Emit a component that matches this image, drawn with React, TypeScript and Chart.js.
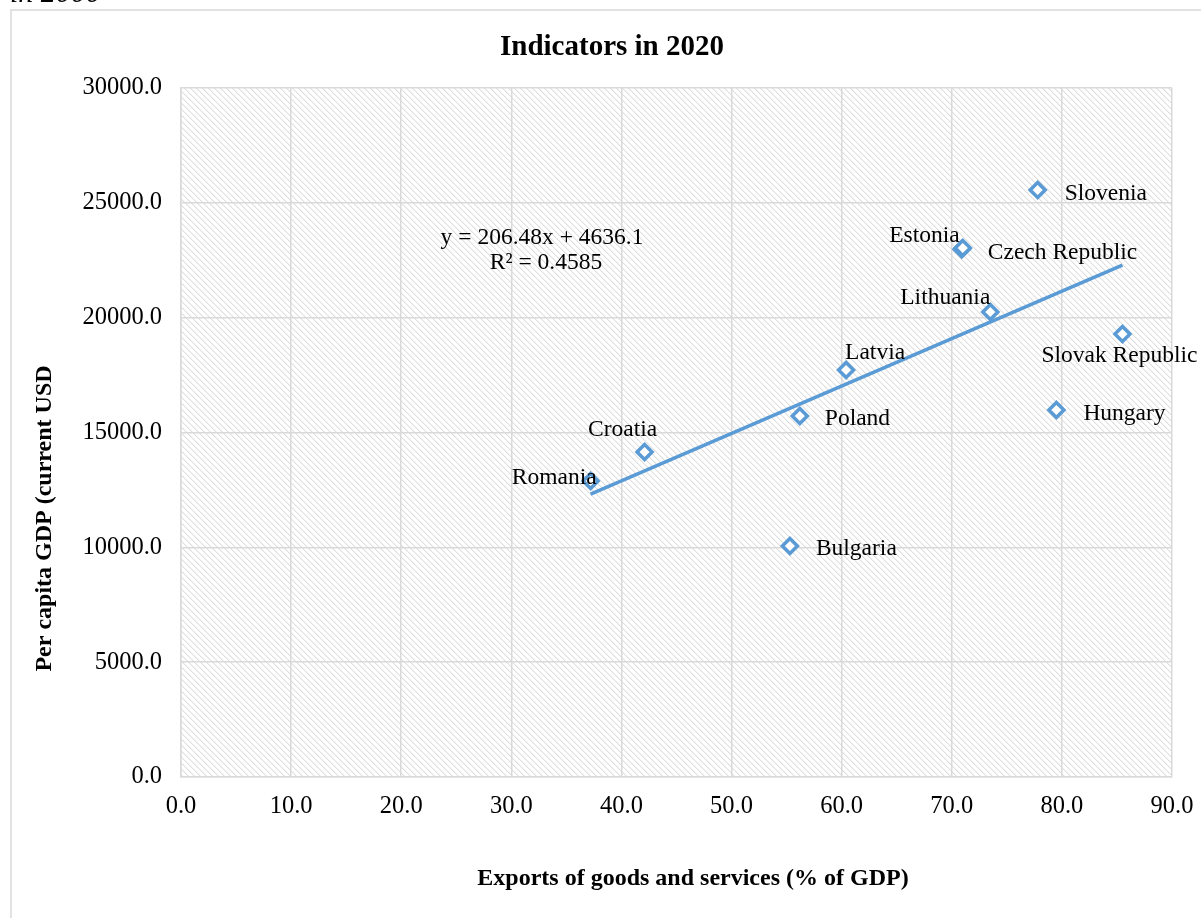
import { useEffect, useRef } from "react";
import { Chart, registerables } from "chart.js";

Chart.register(...registerables);

// ---------- data ----------
const countries = [
  "Romania",
  "Croatia",
  "Bulgaria",
  "Poland",
  "Latvia",
  "Estonia",
  "Czech Republic",
  "Lithuania",
  "Slovenia",
  "Slovak Republic",
  "Hungary",
];
const exportsPctGdp = [37.2, 42.1, 55.3, 56.2, 60.4, 70.9, 71.0, 73.5, 77.8, 85.5, 79.5];
const gdpPerCapita = [12890, 14150, 10060, 15720, 17720, 22980, 23030, 20250, 25560, 19290, 15980];

const trendSlope = 206.48;
const trendIntercept = 4636.1;
const trendLabel = ["y = 206.48x + 4636.1", "R² = 0.4585"];

const chartTitle = "Indicators in 2020";
const xAxisTitle = "Exports of goods and services (% of GDP)";
const yAxisTitle = "Per capita GDP (current USD";
const clippedHeading = "in 2000";

const xMin = 0;
const xMax = 90;
const xStep = 10;
const yMin = 0;
const yMax = 30000;
const yStep = 5000;

// label placement relative to each marker (pixels), same order as countries
const labelPlacement = [
  { dx: 6, dy: -5, align: "right" },
  { dx: -22, dy: -24, align: "center" },
  { dx: 26, dy: 1, align: "left" },
  { dx: 25, dy: 1, align: "left" },
  { dx: -1, dy: -19, align: "left" },
  { dx: -2, dy: -15, align: "right" },
  { dx: 25, dy: 3, align: "left" },
  { dx: 0, dy: -16, align: "right" },
  { dx: 27, dy: 2, align: "left" },
  { dx: -3, dy: 20, align: "center" },
  { dx: 27, dy: 2, align: "left" },
];

const BLUE = "#5b9bd5";
const GRID = "#d9d9d9";
const SERIF = "'Liberation Serif', 'Times New Roman', serif";

function makeHatch(): CanvasPattern | string {
  const n = 6;
  const c = document.createElement("canvas");
  c.width = n;
  c.height = n;
  const g = c.getContext("2d");
  if (!g) return "#f0f0f0";
  const img = g.createImageData(n, n);
  for (let y = 0; y < n; y++) {
    for (let x = 0; x < n; x++) {
      const d = (((x - y) % n) + n) % n;
      let v = 255;
      if (d === 0) v = 222;
      else if (d === 1) v = 242;
      const i = (y * n + x) * 4;
      img.data[i] = v;
      img.data[i + 1] = v;
      img.data[i + 2] = v;
      img.data[i + 3] = 255;
    }
  }
  g.putImageData(img, 0, 0);
  return g.createPattern(c, "repeat") || "#f0f0f0";
}

export default function App() {
  const ref = useRef<HTMLCanvasElement | null>(null);

  useEffect(() => {
    const canvas = ref.current;
    if (!canvas) return;
    const hatch = makeHatch();

    const points = exportsPctGdp.map((x, i) => ({ x, y: gdpPerCapita[i] }));
    const tx0 = Math.min(...exportsPctGdp);
    const tx1 = Math.max(...exportsPctGdp);
    const trend = [
      { x: tx0, y: trendSlope * tx0 + trendIntercept },
      { x: tx1, y: trendSlope * tx1 + trendIntercept },
    ];

    const decor = {
      id: "decor",
      beforeDraw(chart: any) {
        const { ctx, chartArea } = chart;
        ctx.save();
        ctx.fillStyle = "#ffffff";
        ctx.fillRect(0, 0, chart.width, chart.height);
        // outer chart border
        ctx.strokeStyle = GRID;
        ctx.lineWidth = 1.5;
        ctx.strokeRect(11, 10, 1240, 960);
        // clipped text above the chart
        ctx.fillStyle = "#000";
        ctx.font = `italic 30px ${SERIF}`;
        ctx.textAlign = "left";
        ctx.textBaseline = "alphabetic";
        ctx.fillText(clippedHeading, 10, 2);
        // hatched plot area
        ctx.fillStyle = hatch;
        ctx.fillRect(
          chartArea.left,
          chartArea.top,
          chartArea.right - chartArea.left,
          chartArea.bottom - chartArea.top
        );
        ctx.restore();
      },
      afterDraw(chart: any) {
        const { ctx } = chart;
        const xs = chart.scales.x;
        const ys = chart.scales.y;
        ctx.save();
        ctx.fillStyle = "#000";
        // data labels
        ctx.font = `23.5px ${SERIF}`;
        ctx.textBaseline = "alphabetic";
        countries.forEach((name, i) => {
          const px = xs.getPixelForValue(exportsPctGdp[i]);
          const py = ys.getPixelForValue(gdpPerCapita[i]);
          const p = labelPlacement[i];
          ctx.textAlign = p.align;
          ctx.fillText(name, px + p.dx, py + p.dy + 7.6);
        });
        // trend equation
        ctx.textAlign = "center";
        ctx.fillText(trendLabel[0], 542, 244);
        ctx.fillText(trendLabel[1], 546, 269);
        // title
        ctx.font = `bold 29px ${SERIF}`;
        ctx.fillText(chartTitle, 612, 55);
        // x axis title
        ctx.font = `bold 24px ${SERIF}`;
        ctx.fillText(xAxisTitle, 693, 885);
        // y axis title
        ctx.translate(51, 518.5);
        ctx.rotate(-Math.PI / 2);
        ctx.fillText(yAxisTitle, 0, 0);
        ctx.restore();
      },
    };

    const chart = new Chart(canvas, {
      type: "scatter",
      data: {
        datasets: [
          {
            type: "scatter",
            label: "Countries",
            data: points,
            pointStyle: "rectRot",
            pointRadius: 7.5,
            pointHoverRadius: 7.5,
            borderWidth: 3.5,
            borderColor: BLUE,
            backgroundColor: "#ffffff",
            order: 2,
          },
          {
            type: "line",
            label: "Trend",
            data: trend,
            borderColor: BLUE,
            borderWidth: 3.5,
            pointRadius: 0,
            fill: false,
            showLine: true,
            order: 1,
          } as any,
        ],
      },
      options: {
        responsive: false,
        animation: false,
        layout: { padding: { left: 0, top: 88, right: 29, bottom: 0 } },
        plugins: {
          legend: { display: false },
          tooltip: { enabled: false },
          title: { display: false },
        },
        scales: {
          x: {
            type: "linear",
            min: xMin,
            max: xMax,
            ticks: {
              stepSize: xStep,
              callback: (v: any) => Number(v).toFixed(1),
              padding: 15,
              color: "#000",
              font: { family: SERIF, size: 24.5 },
              maxRotation: 0,
              autoSkip: false,
            },
            grid: { color: GRID, lineWidth: 1.5, drawTicks: false },
            border: { color: GRID, width: 1.5 },
            afterFit: (s: any) => {
              s.height = 141;
              s.paddingLeft = 0;
              s.paddingRight = 0;
            },
          },
          y: {
            type: "linear",
            min: yMin,
            max: yMax,
            ticks: {
              stepSize: yStep,
              callback: (v: any) => Number(v).toFixed(1),
              padding: 19,
              color: "#000",
              font: { family: SERIF, size: 24.5 },
              autoSkip: false,
            },
            grid: { color: GRID, lineWidth: 1.5, drawTicks: false },
            border: { color: GRID, width: 1.5 },
            afterFit: (s: any) => {
              s.width = 181;
              s.paddingTop = 0;
              s.paddingBottom = 0;
            },
          },
        },
      },
      plugins: [decor],
    } as any);

    return () => chart.destroy();
  }, []);

  return (
    <div style={{ position: "absolute", left: 0, top: 0, width: 1201, height: 918, background: "#fff" }}>
      <canvas ref={ref} width={1201} height={918} style={{ display: "block", width: 1201, height: 918 }} />
    </div>
  );
}
